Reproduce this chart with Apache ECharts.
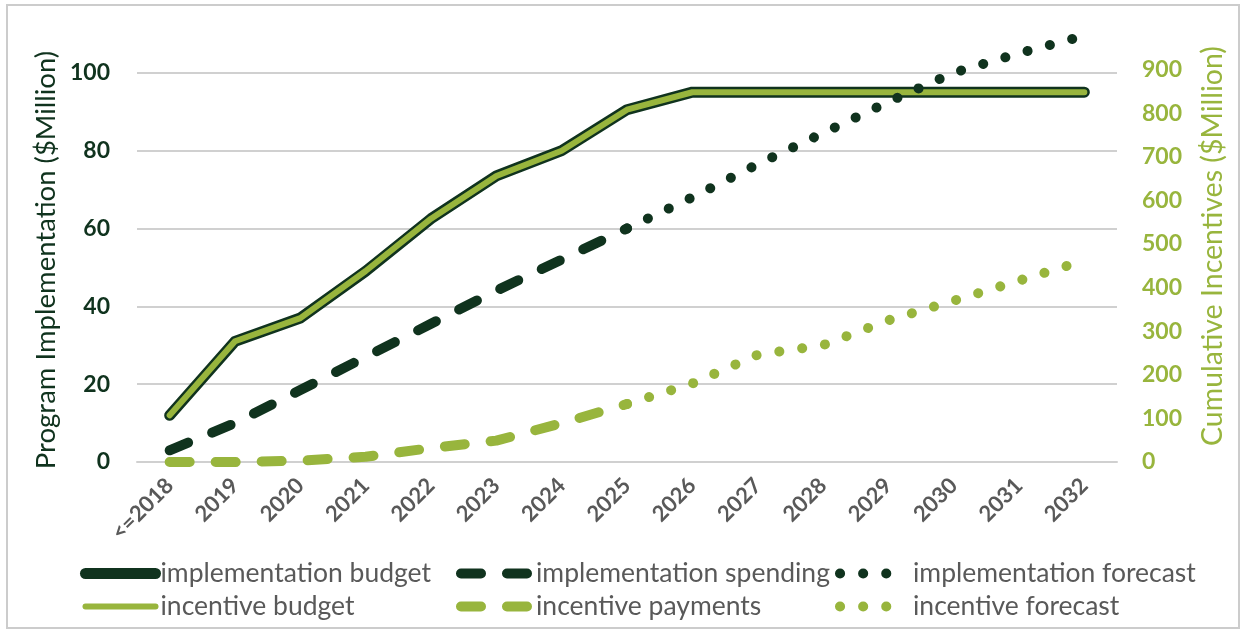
<!DOCTYPE html>
<html>
<head>
<meta charset="utf-8">
<title>Program Implementation and Cumulative Incentives</title>
<script src="https://cdn.jsdelivr.net/npm/echarts@6/dist/echarts.min.js"></script>
<style>
  html, body { margin: 0; padding: 0; background: #ffffff; }
  #chart { width: 1243px; height: 633px; }
</style>
</head>
<body>
<div id="chart"></div>
<script>
// Years on the horizontal axis
const categories = ['<=2018', '2019', '2020', '2021', '2022', '2023', '2024', '2025',
                    '2026', '2027', '2028', '2029', '2030', '2031', '2032'];

// Program implementation, $Million (left axis)
const implementationBudget   = [12, 31, 37, 49, 62.5, 73.5, 80, 90.5, 95, 95, 95, 95, 95, 95, 95];
const implementationSpending = [3, 10, 18.5, 27, 35.5, 44, 52, 60, null, null, null, null, null, null, null];
const implementationForecast = [null, null, null, null, null, null, null, 60, 68, 76.5, 84.5, 92.5, 100, 105, 109.5];

// Cumulative incentives, $Million (right axis)
const incentiveBudget   = [107, 277, 330, 438, 558, 656, 714, 808, 848, 848, 848, 848, 848, 848, 848];
const incentivePayments = [0, 0, 3, 12, 32, 49, 89, 133, null, null, null, null, null, null, null];
const incentiveForecast = [null, null, null, null, null, null, null, 133, 180, 246, 268, 325, 370, 416, 462];

// Axis ranges
const leftAxisRange  = { min: 0, max: 112, interval: 20 };
const rightAxisRange = { min: 0, max: 1000, interval: 100 };

const DARK = '#10331e';
const LIGHT = '#98b53d';
const GREY_TEXT = '#595959';
const GRID = '#d0d0d0';
const FONT = 'Lato';

const chart = echarts.init(document.getElementById('chart'), null, { renderer: 'canvas' });

function lineSeries(name, data, axis, color, width, dash) {
  return {
    name: name,
    type: 'line',
    data: data,
    yAxisIndex: axis,
    symbol: 'none',
    connectNulls: false,
    silent: true,
    animation: false,
    lineStyle: { color: color, width: width, type: dash, cap: 'round', join: 'round' },
    itemStyle: { color: color }
  };
}

const DASHED = [20, 26];
const DOTTED = [0.1, 23];

const legendBase = {
  orient: 'vertical',
  top: 560,
  itemWidth: 70,
  itemHeight: 12,
  itemGap: 6,
  padding: 0,
  selectedMode: false,
  textStyle: { fontFamily: FONT, fontSize: 26.5, color: GREY_TEXT, padding: [0, 0, 0, 0] },
  lineStyle: { width: 'inherit' },
  itemStyle: { opacity: 0 }
};

chart.setOption({
  backgroundColor: '#ffffff',
  textStyle: { fontFamily: FONT },
  grid: { left: 137, right: 126, top: 26, bottom: 171, containLabel: false },
  xAxis: {
    type: 'category',
    data: categories,
    boundaryGap: true,
    axisLine: { show: true, lineStyle: { color: GRID, width: 2 } },
    axisTick: { show: false },
    axisLabel: {
      rotate: 45,
      margin: 20,
      interval: 0,
      fontFamily: FONT,
      fontSize: 22,
      fontWeight: 'bold',
      color: GREY_TEXT
    },
    splitLine: { show: false }
  },
  yAxis: [
    {
      type: 'value',
      position: 'left',
      min: leftAxisRange.min,
      max: leftAxisRange.max,
      interval: leftAxisRange.interval,
      axisLine: { show: false },
      axisTick: { show: false },
      axisLabel: {
        margin: 27,
        showMaxLabel: false,
        fontFamily: FONT,
        fontSize: 23,
        fontWeight: 'bold',
        color: DARK
      },
      splitLine: { show: true, showMaxLine: false, lineStyle: { color: GRID, width: 2 } }
    },
    {
      type: 'value',
      position: 'right',
      min: rightAxisRange.min,
      max: rightAxisRange.max,
      interval: rightAxisRange.interval,
      axisLine: { show: false },
      axisTick: { show: false },
      axisLabel: {
        margin: 25,
        showMaxLabel: false,
        fontFamily: FONT,
        fontSize: 23,
        fontWeight: 'bold',
        color: LIGHT
      },
      splitLine: { show: false }
    }
  ],
  legend: [
    Object.assign({}, legendBase, { left: 80,  data: ['implementation budget', 'incentive budget'] }),
    Object.assign({}, legendBase, { left: 456, data: ['implementation spending', 'incentive payments'] }),
    Object.assign({}, legendBase, { left: 835, itemWidth: 68, data: ['implementation forecast', 'incentive forecast'] })
  ],
  series: [
    lineSeries('implementation budget', implementationBudget, 0, DARK, 11, 'solid'),
    lineSeries('incentive budget', incentiveBudget, 1, LIGHT, 6, 'solid'),
    lineSeries('implementation spending', implementationSpending, 0, DARK, 10, DASHED),
    lineSeries('implementation forecast', implementationForecast, 0, DARK, 10, DOTTED),
    lineSeries('incentive payments', incentivePayments, 1, LIGHT, 10, DASHED),
    lineSeries('incentive forecast', incentiveForecast, 1, LIGHT, 10, DOTTED)
  ],
  graphic: [
    {
      type: 'rect',
      shape: { x: 7, y: 5, width: 1232, height: 623 },
      style: { fill: 'none', stroke: '#cccccc', lineWidth: 2 },
      silent: true
    },
    {
      type: 'text',
      x: 46, y: 260,
      rotation: Math.PI / 2,
      style: {
        text: 'Program Implementation ($Million)',
        fill: DARK,
        font: '27.5px ' + FONT,
        align: 'center',
        verticalAlign: 'middle'
      },
      silent: true
    },
    {
      type: 'text',
      x: 1213, y: 246,
      rotation: Math.PI / 2,
      style: {
        text: 'Cumulative Incentives ($Million)',
        fill: LIGHT,
        font: '28.5px ' + FONT,
        align: 'center',
        verticalAlign: 'middle'
      },
      silent: true
    }
  ]
});
</script>
</body>
</html>
